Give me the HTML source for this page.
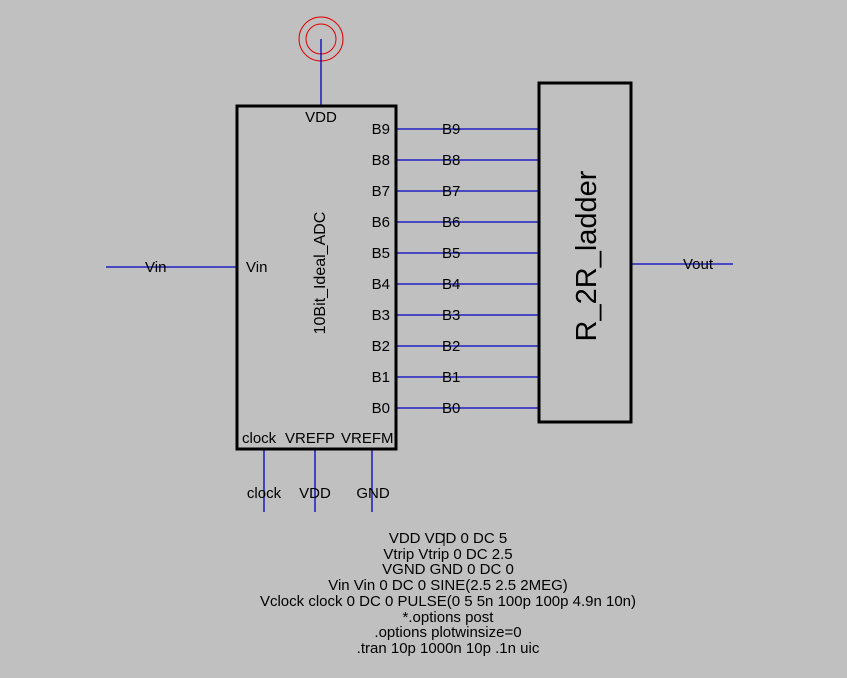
<!DOCTYPE html>
<html><head><style>
body{margin:0;background:#c0c0c0;}
svg{display:block;font-family:"Liberation Sans",Arial,sans-serif;}
</style></head><body>
<svg width="847" height="678" viewBox="0 0 847 678" xmlns="http://www.w3.org/2000/svg">
<rect width="847" height="678" fill="#c0c0c0"/>
<circle cx="321" cy="39" r="22" fill="none" stroke="#e00000" stroke-width="1"/>
<circle cx="321" cy="39" r="15" fill="none" stroke="#e00000" stroke-width="1"/>
<g stroke="#0000c0" stroke-width="1.3">
<line x1="321" y1="39" x2="321" y2="105"/>
<line x1="106" y1="267" x2="236" y2="267"/>
<line x1="631" y1="264" x2="733" y2="264"/>
<line x1="264" y1="450" x2="264" y2="512"/>
<line x1="315" y1="450" x2="315" y2="512"/>
<line x1="372" y1="450" x2="372" y2="512"/>
<line x1="396" y1="129" x2="539" y2="129"/>
<line x1="396" y1="160" x2="539" y2="160"/>
<line x1="396" y1="191" x2="539" y2="191"/>
<line x1="396" y1="222" x2="539" y2="222"/>
<line x1="396" y1="253" x2="539" y2="253"/>
<line x1="396" y1="284" x2="539" y2="284"/>
<line x1="396" y1="315" x2="539" y2="315"/>
<line x1="396" y1="346" x2="539" y2="346"/>
<line x1="396" y1="377" x2="539" y2="377"/>
<line x1="396" y1="408" x2="539" y2="408"/>
</g>
<rect x="237" y="106" width="159" height="343" fill="none" stroke="#000" stroke-width="3"/>
<rect x="539" y="83" width="92" height="339" fill="none" stroke="#000" stroke-width="3"/>
<g font-size="15" fill="#000">
<text x="321" y="122" text-anchor="middle">VDD</text>
<g text-anchor="end">
<text x="390" y="134">B9</text><text x="390" y="165">B8</text><text x="390" y="196">B7</text>
<text x="390" y="227">B6</text><text x="390" y="258">B5</text><text x="390" y="289">B4</text>
<text x="390" y="320">B3</text><text x="390" y="351">B2</text><text x="390" y="382">B1</text>
<text x="390" y="413">B0</text>
</g>
<text x="442" y="134">B9</text><text x="442" y="165">B8</text><text x="442" y="196">B7</text>
<text x="442" y="227">B6</text><text x="442" y="258">B5</text><text x="442" y="289">B4</text>
<text x="442" y="320">B3</text><text x="442" y="351">B2</text><text x="442" y="382">B1</text>
<text x="442" y="413">B0</text>
<text x="145" y="272">Vin</text>
<text x="246" y="272">Vin</text>
<text x="683" y="269">Vout</text>
<text x="242" y="443">clock</text>
<text x="285" y="443">VREFP</text>
<text x="341" y="443">VREFM</text>
<text x="264" y="498" text-anchor="middle">clock</text>
<text x="315" y="498" text-anchor="middle">VDD</text>
<text x="373" y="498" text-anchor="middle">GND</text>
<text transform="translate(325,273) rotate(-90)" text-anchor="middle" font-size="16">10Bit_Ideal_ADC</text>
</g>
<text transform="translate(596,256) rotate(-90)" text-anchor="middle" font-size="29" fill="#000">R_2R_ladder</text>
<line x1="444" y1="533" x2="444" y2="546" stroke="#000" stroke-width="1"/>
<g font-size="15" fill="#000" text-anchor="middle">
<text x="448" y="543">VDD VDD 0 DC 5</text>
<text x="448" y="559">Vtrip Vtrip 0 DC 2.5</text>
<text x="448" y="574">VGND GND 0 DC 0</text>
<text x="448" y="590">Vin Vin 0 DC 0 SINE(2.5 2.5 2MEG)</text>
<text x="448" y="606">Vclock clock 0 DC 0 PULSE(0 5 5n 100p 100p 4.9n 10n)</text>
<text x="448" y="622">*.options post</text>
<text x="448" y="637">.options plotwinsize=0</text>
<text x="448" y="653">.tran 10p 1000n 10p .1n uic</text>
</g>
</svg>
</body></html>
